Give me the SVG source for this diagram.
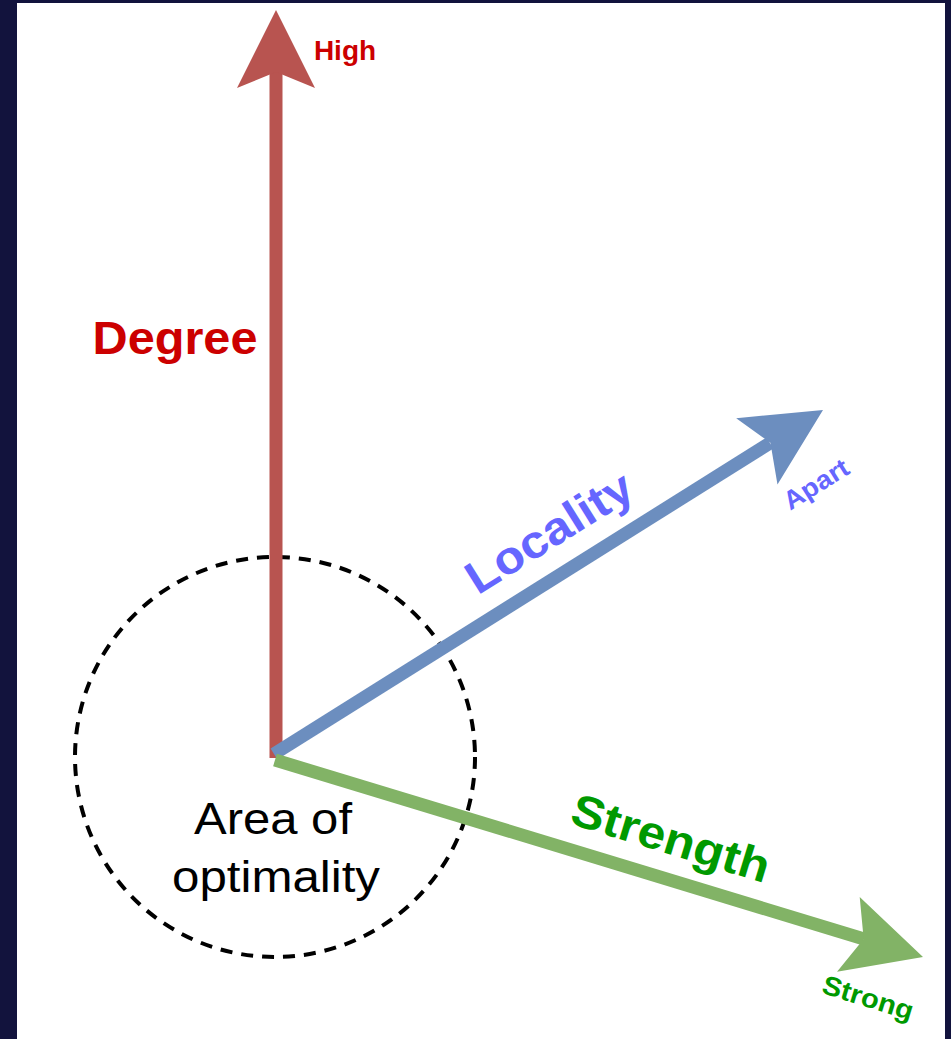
<svg xmlns="http://www.w3.org/2000/svg" width="951" height="1039" viewBox="0 0 951 1039">
<style>
.lbl{font-family:"Liberation Sans",Arial,sans-serif;font-weight:bold;text-anchor:middle}
.red{fill:#CC0000}
.blue{fill:#6666FF}
.green{fill:#009900}
.area{font-family:"Liberation Sans",Arial,sans-serif;font-size:45px;fill:#000;text-anchor:middle}
</style>
<defs>
<polygon id="head" points="0,0 -78,-39 -62,0 -78,39"/>
</defs>
<rect x="0" y="0" width="951" height="1039" fill="#12133d"/>
<rect x="17" y="3" width="928" height="1036" fill="#ffffff"/>
<g id="area">
<circle cx="275" cy="757" r="200" fill="none" stroke="#000" stroke-width="4" stroke-dasharray="12 9"/>
<text class="area" x="273" y="834" textLength="158" lengthAdjust="spacingAndGlyphs">Area of</text>
<text class="area" x="276" y="892" textLength="208" lengthAdjust="spacingAndGlyphs">optimality</text>
</g>
<g id="connectors">
<g id="degree-axis" fill="#b85450">
<line x1="276" y1="758" x2="276" y2="72" stroke="#b85450" stroke-width="13"/>
<use href="#head" transform="translate(276,10) rotate(-90)"/>
</g>
<g id="locality-axis" fill="#6c8ebf">
<line x1="274" y1="754" x2="770" y2="443" stroke="#6c8ebf" stroke-width="13"/>
<use href="#head" transform="translate(823,410) rotate(-31.97)"/>
</g>
<g id="strength-axis" fill="#82b366">
<line x1="275" y1="760" x2="864" y2="939" stroke="#82b366" stroke-width="13"/>
<use href="#head" transform="translate(923,957) rotate(16.9)"/>
</g>
</g>
<g id="labels">
<text class="lbl red" x="345" y="60" font-size="28">High</text>
<text class="lbl red" x="175" y="354" font-size="46" textLength="165" lengthAdjust="spacingAndGlyphs">Degree</text>
<text class="lbl blue" font-size="46" transform="translate(549,532) rotate(-32)" y="16" textLength="188" lengthAdjust="spacingAndGlyphs">Locality</text>
<text class="lbl blue" font-size="26" transform="translate(816,484) rotate(-32)" y="9" textLength="72" lengthAdjust="spacingAndGlyphs">Apart</text>
<text class="lbl green" font-size="46" transform="translate(671,838) rotate(17)" y="16" textLength="205" lengthAdjust="spacingAndGlyphs">Strength</text>
<text class="lbl green" font-size="27" transform="translate(868,998) rotate(17)" y="9" textLength="94" lengthAdjust="spacingAndGlyphs">Strong</text>
</g>
</svg>
